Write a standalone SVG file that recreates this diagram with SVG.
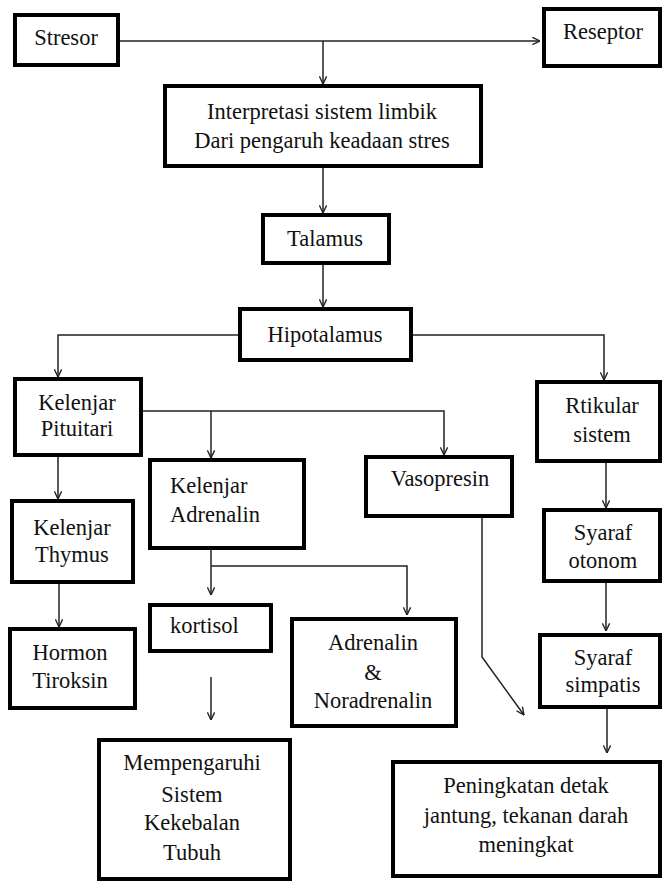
<svg xmlns="http://www.w3.org/2000/svg" width="663" height="883" viewBox="0 0 663 883">
<style>
.box{fill:#fff;stroke:#000;stroke-width:4}
text{font-family:"Liberation Serif","Times New Roman",serif;font-size:22.5px;fill:#111;text-anchor:middle}
text.l{text-anchor:start}
.c{fill:none;stroke:#222;stroke-width:1.5}
</style>
<defs>
<marker id="ah" viewBox="0 0 10 10" refX="9.5" refY="5" markerWidth="9" markerHeight="9" markerUnits="userSpaceOnUse" orient="auto">
<path d="M1,1 L9.5,5 L1,9" fill="none" stroke="#222" stroke-width="1.5"/>
</marker>
</defs>
<rect width="663" height="883" fill="#fff"/>
<g id="connectors">
<path class="c" d="M120,41 H540" marker-end="url(#ah)"/>
<path class="c" d="M323,41 V84" marker-end="url(#ah)"/>
<path class="c" d="M323,168 V213" marker-end="url(#ah)"/>
<path class="c" d="M323,265 V307" marker-end="url(#ah)"/>
<path class="c" d="M238,335 H58 V377" marker-end="url(#ah)"/>
<path class="c" d="M413,335 H604 V380" marker-end="url(#ah)"/>
<path class="c" d="M143,411 H444 V455" marker-end="url(#ah)"/>
<path class="c" d="M211,411 V458" marker-end="url(#ah)"/>
<path class="c" d="M58,457 V499" marker-end="url(#ah)"/>
<path class="c" d="M59,584 V627" marker-end="url(#ah)"/>
<path class="c" d="M211,550 V595" marker-end="url(#ah)"/>
<path class="c" d="M211,566 H407 V615" marker-end="url(#ah)"/>
<path class="c" d="M606,463 V508" marker-end="url(#ah)"/>
<path class="c" d="M606,583 V631" marker-end="url(#ah)"/>
<path class="c" d="M482,518 V657 L524,715" marker-end="url(#ah)"/>
<path class="c" d="M211,677 V720" marker-end="url(#ah)"/>
<path class="c" d="M607,709 V753" marker-end="url(#ah)"/>
</g>
<g id="stresor"><rect class="box" x="15" y="15" width="103" height="50"/><text x="66" y="45">Stresor</text></g>
<g id="reseptor"><rect class="box" x="544" y="9" width="116" height="57"/><text x="603" y="39">Reseptor</text></g>
<g id="interpretasi"><rect class="box" x="165" y="86" width="316" height="80"/><text x="322" y="119">Interpretasi sistem limbik</text><text x="322" y="148">Dari pengaruh keadaan stres</text></g>
<g id="talamus"><rect class="box" x="263" y="215" width="126" height="48"/><text x="325" y="246">Talamus</text></g>
<g id="hipotalamus"><rect class="box" x="240" y="309" width="171" height="51"/><text x="325" y="342">Hipotalamus</text></g>
<g id="pituitari"><rect class="box" x="15" y="379" width="126" height="76"/><text x="77" y="410">Kelenjar</text><text x="77" y="436">Pituitari</text></g>
<g id="rtikular"><rect class="box" x="537" y="382" width="123" height="79"/><text x="602" y="413">Rtikular</text><text x="602" y="442">sistem</text></g>
<g id="adrenalin-gland"><rect class="box" x="150" y="460" width="154" height="88"/><text class="l" x="170" y="493">Kelenjar</text><text class="l" x="170" y="522">Adrenalin</text></g>
<g id="vasopresin"><rect class="box" x="366" y="457" width="146" height="59"/><text x="440" y="486">Vasopresin</text></g>
<g id="thymus"><rect class="box" x="12" y="501" width="121" height="81"/><text x="72" y="535">Kelenjar</text><text x="72" y="562">Thymus</text></g>
<g id="otonom"><rect class="box" x="544" y="510" width="116" height="71"/><text x="603" y="540">Syaraf</text><text x="603" y="568">otonom</text></g>
<g id="hormon"><rect class="box" x="10" y="629" width="125" height="79"/><text x="70" y="660">Hormon</text><text x="70" y="688">Tiroksin</text></g>
<g id="kortisol"><rect class="box" x="150" y="605" width="121" height="46"/><text class="l" x="170" y="633">kortisol</text></g>
<g id="adrenalin-noradrenalin"><rect class="box" x="292" y="619" width="164" height="107"/><text x="373" y="650">Adrenalin</text><text x="373" y="680">&amp;</text><text x="373" y="708">Noradrenalin</text></g>
<g id="simpatis"><rect class="box" x="540" y="635" width="120" height="72"/><text x="603" y="665">Syaraf</text><text x="603" y="692">simpatis</text></g>
<g id="mempengaruhi"><rect class="box" x="99" y="740" width="191" height="139"/><text x="192" y="770">Mempengaruhi</text><text x="192" y="802">Sistem</text><text x="192" y="830">Kekebalan</text><text x="192" y="860">Tubuh</text></g>
<g id="peningkatan"><rect class="box" x="393" y="762" width="267" height="114"/><text x="526" y="793">Peningkatan detak</text><text x="526" y="823">jantung, tekanan darah</text><text x="526" y="852">meningkat</text></g>
</svg>
